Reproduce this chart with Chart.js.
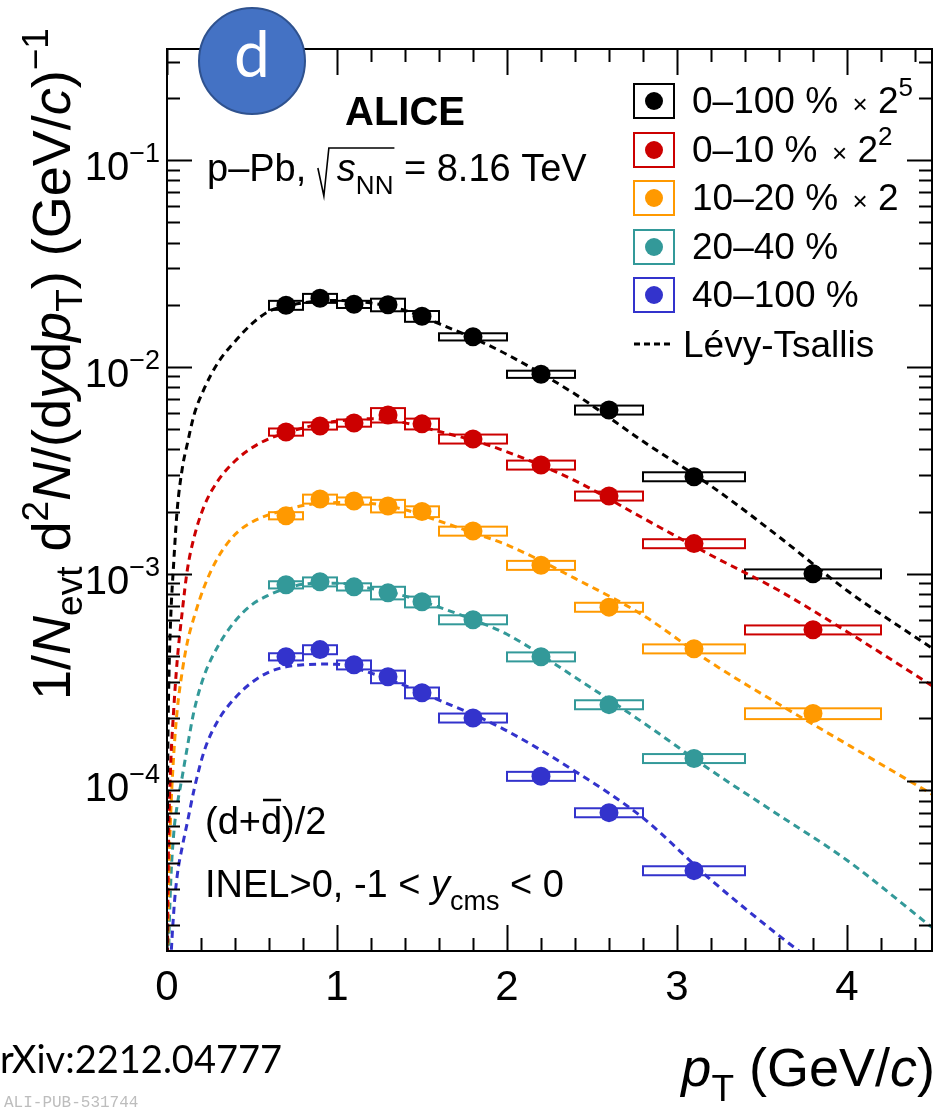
<!DOCTYPE html>
<html>
<head>
<meta charset="utf-8">
<script src="https://cdn.jsdelivr.net/npm/chart.js@4.4.1/dist/chart.umd.min.js"></script>
<style>html,body{margin:0;padding:0;background:#fff;}canvas{display:block;}</style>
</head>
<body>
<canvas id="c" width="947" height="1110"></canvas>
<script>
// ---------- data ----------
const PT    = [0.7, 0.9, 1.1, 1.3, 1.5, 1.8, 2.2, 2.6, 3.1, 3.8];
const PT_LO = [0.6, 0.8, 1.0, 1.2, 1.4, 1.6, 2.0, 2.4, 2.8, 3.4];
const PT_HI = [0.8, 1.0, 1.2, 1.4, 1.6, 2.0, 2.4, 2.8, 3.4, 4.2];

const Y_0_100   = [0.0199, 0.0215, 0.0201, 0.0200, 0.0176, 0.0140, 0.00923, 0.0062, 0.00295, 0.00100];
const Y_0_10    = [0.00485, 0.00519, 0.00536, 0.00586, 0.00531, 0.00449, 0.00336, 0.00238, 0.00140, 0.000536];
const Y_10_20   = [0.00191, 0.00230, 0.00225, 0.00213, 0.00200, 0.00161, 0.00110, 0.00069, 0.000434, 0.000211];
const Y_20_40   = [0.000885, 0.000915, 0.000865, 0.000809, 0.000732, 0.000600, 0.000397, 0.000233, 0.000128];
const Y_40_100  = [0.000397, 0.000430, 0.000363, 0.000318, 0.000266, 0.000201, 0.000105, 0.0000700, 0.0000367];

// relative systematic uncertainties (box half-heights)
const SYS_0_100  = [0.05, 0.05, 0.04, 0.07, 0.06, 0.04, 0.04, 0.05, 0.05, 0.05];
const SYS_0_10   = [0.04, 0.04, 0.04, 0.08, 0.06, 0.05, 0.05, 0.05, 0.05, 0.05];
const SYS_10_20  = [0.04, 0.05, 0.04, 0.07, 0.06, 0.05, 0.05, 0.05, 0.05, 0.06];
const SYS_20_40  = [0.04, 0.05, 0.04, 0.07, 0.06, 0.05, 0.05, 0.05, 0.05];
const SYS_40_100 = [0.04, 0.05, 0.05, 0.07, 0.06, 0.05, 0.05, 0.05, 0.05];

// Lévy-Tsallis curves
const FIT_PT = [0.002, 0.005, 0.01, 0.02, 0.04, 0.06, 0.09, 0.12, 0.16, 0.22, 0.3, 0.4, 0.5, 0.6, 0.7, 0.8, 0.9, 1.0, 1.2, 1.4, 1.6, 1.8, 2.0, 2.4, 2.8, 3.2, 3.6, 4.0, 4.5];
const FIT_0_100  = [5.6e-5, 1.41e-4, 2.8e-4, 5.6e-4, 1.15e-3, 2.04e-3, 3.24e-3, 4.27e-3, 5.9e-3, 7.9e-3, 1.05e-2, 1.33e-2, 1.62e-2, 1.86e-2, 1.97e-2, 2.04e-2, 2.09e-2, 2.10e-2, 2.04e-2, 1.88e-2, 1.62e-2, 1.38e-2, 1.15e-2, 7.4e-3, 4.37e-3, 2.66e-3, 1.51e-3, 8.3e-4, 4.37e-4];
const FIT_0_10   = [1.10e-5, 2.75e-5, 5.5e-5, 1.10e-4, 2.24e-4, 3.8e-4, 6.6e-4, 1.05e-3, 1.51e-3, 2.14e-3, 2.82e-3, 3.51e-3, 4.07e-3, 4.5e-3, 4.81e-3, 5.07e-3, 5.31e-3, 5.47e-3, 5.62e-3, 5.37e-3, 4.88e-3, 4.42e-3, 3.89e-3, 2.82e-3, 1.86e-3, 1.23e-3, 8.3e-4, 5.25e-4, 2.88e-4];
const FIT_10_20  = [6.3e-6, 1.55e-5, 3.16e-5, 6.3e-5, 1.35e-4, 2.19e-4, 3.39e-4, 4.68e-4, 6.2e-4, 8.7e-4, 1.20e-3, 1.55e-3, 1.78e-3, 1.93e-3, 2.04e-3, 2.14e-3, 2.19e-3, 2.21e-3, 2.19e-3, 2.04e-3, 1.80e-3, 1.58e-3, 1.38e-3, 9.5e-4, 6.3e-4, 3.72e-4, 2.34e-4, 1.50e-4, 8.6e-5];
const FIT_20_40  = [3.2e-6, 7.4e-6, 1.48e-5, 2.95e-5, 5.6e-5, 7.6e-5, 1.05e-4, 1.46e-4, 2.19e-4, 3.24e-4, 4.47e-4, 5.9e-4, 7.1e-4, 7.9e-4, 8.5e-4, 8.9e-4, 9.0e-4, 9.0e-4, 8.5e-4, 7.8e-4, 6.9e-4, 6.0e-4, 5.1e-4, 3.16e-4, 1.91e-4, 1.12e-4, 6.8e-5, 4.12e-5, 1.95e-5];
const FIT_40_100 = [1.2e-6, 2.95e-6, 5.9e-6, 1.17e-5, 2.34e-5, 3.47e-5, 4.8e-5, 6.3e-5, 9.1e-5, 1.40e-4, 1.95e-4, 2.51e-4, 2.99e-4, 3.35e-4, 3.55e-4, 3.63e-4, 3.66e-4, 3.65e-4, 3.31e-4, 2.88e-4, 2.45e-4, 2.09e-4, 1.74e-4, 1.11e-4, 6.6e-5, 3.31e-5, 1.78e-5, 1.0e-5, 4.5e-6];

const SERIES_LABELS = ['0–100 %', '0–10 %', '10–20 %', '20–40 %', '40–100 %'];
const SERIES_SCALE  = ['5', '2', '1', '', ''];   // ×2^n (n shown as exponent; '1' -> ×2)
const COLORS = ['#000000', '#cc0000', '#ff9900', '#339999', '#3333cc'];

const X_TICKS = [0, 1, 2, 3, 4];
const X_TICK_LABELS = ['0', '1', '2', '3', '4'];
const Y_TICKS = [1e-1, 1e-2, 1e-3, 1e-4];
const Y_TICK_EXP = ['−1', '−2', '−3', '−4'];

const X_MIN = 0, X_MAX = 4.5, Y_MIN = 1.5e-5, Y_MAX = 0.345;

// ---------- build ----------
const YS = [Y_0_100, Y_0_10, Y_10_20, Y_20_40, Y_40_100];
const SYS = [SYS_0_100, SYS_0_10, SYS_10_20, SYS_20_40, SYS_40_100];
const FITS = [FIT_0_100, FIT_0_10, FIT_10_20, FIT_20_40, FIT_40_100];

const datasets = [];
FITS.forEach((f, s) => {
  datasets.push({
    type: 'line', label: 'fit' + s,
    data: FIT_PT.map((x, i) => ({x, y: f[i]})),
    borderColor: COLORS[s], borderWidth: 3, borderDash: [7, 5],
    pointRadius: 0, fill: false, cubicInterpolationMode: 'monotone', order: 2
  });
});
YS.forEach((arr, s) => {
  datasets.push({
    type: 'scatter', label: SERIES_LABELS[s],
    data: arr.map((y, i) => ({x: PT[i], y})),
    backgroundColor: COLORS[s], borderColor: COLORS[s], borderWidth: 0,
    pointRadius: 9.5, pointHoverRadius: 9.5, showLine: false, order: 1
  });
});

const FAM = '"Liberation Sans", Arial, Helvetica, sans-serif';
function fontOf(s, base) {
  return (s.i ? 'italic ' : '') + (s.b ? 'bold ' : '') + (s.size || base) + 'px ' + (s.fam || FAM);
}
function rich(ctx, segs, x, y, opts) {
  opts = opts || {};
  const base = opts.size || 38, align = opts.align || 'left';
  ctx.textBaseline = 'alphabetic'; ctx.textAlign = 'left';
  const ws = segs.map(s => { if (s.w !== undefined) return s.w; ctx.font = fontOf(s, base); return ctx.measureText(s.t).width; });
  const total = ws.reduce((a, b) => a + b, 0);
  let cx = align === 'right' ? x - total : align === 'center' ? x - total / 2 : x;
  const pos = [];
  segs.forEach((s, k) => {
    if (s.t) {
      ctx.font = fontOf(s, base);
      ctx.fillStyle = s.color || opts.color || '#000';
      ctx.fillText(s.t, cx, y + (s.dy || 0));
    }
    pos.push([cx, cx + ws[k]]);
    cx += ws[k];
  });
  return pos;
}

const decor = {
  id: 'decor',
  beforeDraw(chart) {
    const ctx = chart.ctx;
    ctx.save(); ctx.fillStyle = '#fff'; ctx.fillRect(0, 0, chart.width, chart.height); ctx.restore();
  },
  beforeDatasetsDraw(chart) {
    const ctx = chart.ctx, xs = chart.scales.x, ys = chart.scales.y, ca = chart.chartArea;
    ctx.save();
    ctx.beginPath(); ctx.rect(ca.left, ca.top, ca.right - ca.left, ca.bottom - ca.top); ctx.clip();
    ctx.lineWidth = 2;
    YS.forEach((arr, s) => {
      ctx.strokeStyle = COLORS[s];
      arr.forEach((v, i) => {
        const x1 = xs.getPixelForValue(PT_LO[i]), x2 = xs.getPixelForValue(PT_HI[i]);
        const y1 = ys.getPixelForValue(v * (1 + SYS[s][i])), y2 = ys.getPixelForValue(v * (1 - SYS[s][i]));
        ctx.strokeRect(x1, y1, x2 - x1, y2 - y1);
      });
    });
    ctx.restore();
  },
  afterDraw(chart) {
    const ctx = chart.ctx, xs = chart.scales.x, ys = chart.scales.y, ca = chart.chartArea;
    ctx.save();
    // frame
    ctx.strokeStyle = '#000'; ctx.lineWidth = 2;
    ctx.strokeRect(ca.left, ca.top, ca.right - ca.left, ca.bottom - ca.top);
    // x ticks
    ctx.beginPath();
    for (let i = 0; i <= 22; i++) {
      const v = i * 0.2; if (v > X_MAX + 1e-9) break;
      const px = Math.round(xs.getPixelForValue(v)) + 0.5;
      const len = (i % 5 === 0) ? 26 : 13;
      ctx.moveTo(px, ca.bottom); ctx.lineTo(px, ca.bottom - len);
      ctx.moveTo(px, ca.top); ctx.lineTo(px, ca.top + len);
    }
    // y ticks
    for (let n = -6; n <= 0; n++) {
      for (let k = 1; k <= 9; k++) {
        const v = k * Math.pow(10, n);
        if (v < Y_MIN || v > Y_MAX) continue;
        const py = Math.round(ys.getPixelForValue(v)) + 0.5;
        const len = (k === 1) ? 25 : 13;
        ctx.moveTo(ca.left, py); ctx.lineTo(ca.left + len, py);
        ctx.moveTo(ca.right, py); ctx.lineTo(ca.right - len, py);
      }
    }
    ctx.stroke();
    // tick labels
    X_TICKS.forEach((v, i) => {
      rich(ctx, [{t: X_TICK_LABELS[i]}], xs.getPixelForValue(v), 1000, {size: 42, align: 'center'});
    });
    Y_TICKS.forEach((v, i) => {
      const py = ys.getPixelForValue(v);
      rich(ctx, [{t: '10'}, {t: Y_TICK_EXP[i], size: 27, dy: -18}], 160, py + 20, {size: 40, align: 'right'});
    });
    // axis titles
    rich(ctx, [{t: 'p', i: true}, {t: 'T', size: 37, dy: 15}, {t: ' (GeV/'}, {t: 'c', i: true}, {t: ')'}], 935, 1086, {size: 54, align: 'right'});
    ctx.save();
    ctx.translate(70, 364); ctx.rotate(-Math.PI / 2);
    rich(ctx, [{t: '1/'}, {t: 'N', i: true}, {t: 'evt', size: 37, dy: 12}, {t: ' d'}, {t: '2', size: 37, dy: -22},
               {t: 'N', i: true}, {t: '/(d'}, {t: 'y', i: true}, {t: 'd'}, {t: 'p', i: true}, {t: 'T', size: 37, dy: 12},
               {t: ') (GeV/'}, {t: 'c', i: true}, {t: ')'}, {t: '−1', size: 37, dy: -22}], 0, 0, {size: 54, align: 'center'});
    ctx.restore();
    // ALICE + system
    rich(ctx, [{t: 'ALICE', b: true}], 345, 125, {size: 40});
    const pp = rich(ctx, [{t: 'p–Pb, '}, {w: 20}, {t: 's', i: true}, {t: 'NN', size: 26, dy: 13}, {t: ' = 8.16 TeV'}], 207, 181, {size: 38});
    ctx.beginPath(); ctx.lineWidth = 1.6;
    const r0 = pp[1][0] + 1;
    ctx.moveTo(r0, 168); ctx.lineTo(r0 + 6, 196); ctx.lineTo(r0 + 11, 148); ctx.lineTo(pp[3][1] + 1, 148);
    ctx.stroke();
    // bottom-left labels
    const dd = rich(ctx, [{t: '(d+'}, {t: 'd'}, {t: ')/2'}], 205, 834, {size: 38});
    ctx.beginPath(); ctx.lineWidth = 2.5;
    ctx.moveTo(dd[1][0] + 2, 800); ctx.lineTo(dd[1][1] - 1, 800); ctx.stroke();
    rich(ctx, [{t: 'INEL>0, -1 < '}, {t: 'y', i: true}, {t: 'cms', size: 27, dy: 13}, {t: ' < 0'}], 205, 897, {size: 38});
    // legend
    const rowsY = [101, 150, 198, 247, 295];
    rowsY.forEach((cy, s) => {
      ctx.lineWidth = 2; ctx.strokeStyle = COLORS[s];
      ctx.strokeRect(634, cy - 17, 40, 34);
      ctx.fillStyle = COLORS[s];
      ctx.beginPath(); ctx.arc(654, cy, 9, 0, Math.PI * 2); ctx.fill();
      const segs = [{t: SERIES_LABELS[s]}];
      if (SERIES_SCALE[s]) {
        segs.push({t: '  ×', size: 26});
        segs.push({t: ' 2'});
        if (SERIES_SCALE[s] !== '1') segs.push({t: SERIES_SCALE[s], size: 26, dy: -17});
      }
      rich(ctx, segs, 692, cy + 12, {size: 37});
    });
    ctx.beginPath(); ctx.strokeStyle = '#000'; ctx.lineWidth = 3; ctx.setLineDash([6, 4]);
    ctx.moveTo(634, 344); ctx.lineTo(672, 344); ctx.stroke(); ctx.setLineDash([]);
    rich(ctx, [{t: 'Lévy-Tsallis'}], 683, 357, {size: 37});
    // footer texts
    rich(ctx, [{t: 'rXiv:2212.04777', fam: 'Lato, "Open Sans", sans-serif'}], 0, 1073, {size: 38});
    rich(ctx, [{t: 'ALI-PUB-531744', fam: '"Liberation Mono", "DejaVu Sans Mono", monospace', color: '#bdbdbd'}], 4, 1107, {size: 16, color: '#bdbdbd'});
    // panel badge
    ctx.beginPath(); ctx.arc(252, 61, 53, 0, Math.PI * 2);
    ctx.fillStyle = '#4472c4'; ctx.fill(); ctx.lineWidth = 2; ctx.strokeStyle = '#2f528f'; ctx.stroke();
    rich(ctx, [{t: 'd', fam: 'Lato, "Open Sans", sans-serif', color: '#fff'}], 252, 77, {size: 64, align: 'center', color: '#fff'});
    ctx.restore();
  }
};

new Chart(document.getElementById('c'), {
  type: 'scatter',
  data: {datasets},
  options: {
    responsive: false, devicePixelRatio: 1, animation: false,
    layout: {padding: {left: 167, right: 15, top: 49, bottom: 159}},
    plugins: {legend: {display: false}, tooltip: {enabled: false}},
    scales: {
      x: {type: 'linear', min: X_MIN, max: X_MAX, display: false},
      y: {type: 'logarithmic', min: Y_MIN, max: Y_MAX, display: false}
    }
  },
  plugins: [decor]
});
</script>
</body>
</html>
